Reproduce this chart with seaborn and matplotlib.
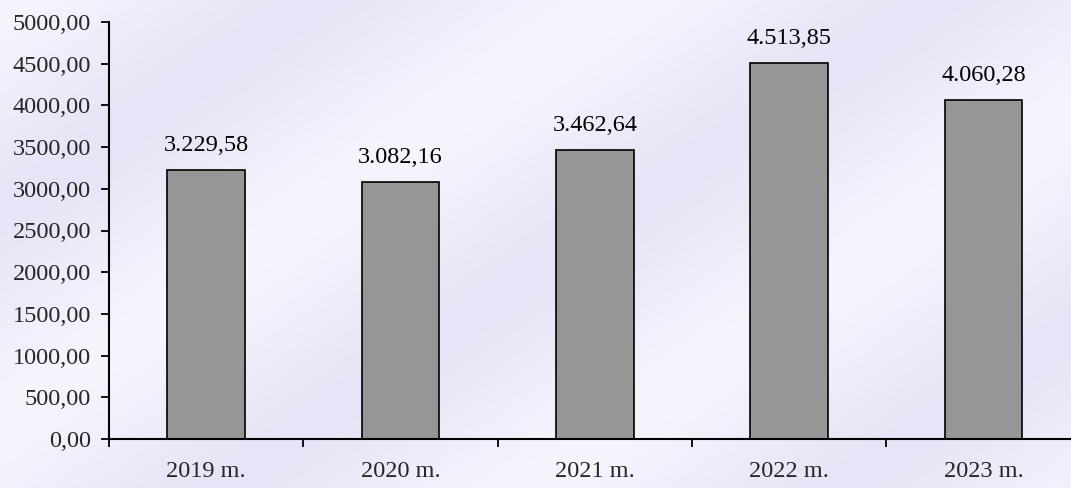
import numpy as np
import matplotlib
matplotlib.use("Agg")
import matplotlib.pyplot as plt
import seaborn as sns

# Data
years = ["2019 m.", "2020 m.", "2021 m.", "2022 m.", "2023 m."]
values = [3229.58, 3082.16, 3462.64, 4513.85, 4060.28]
y_ticks = [0, 500, 1000, 1500, 2000, 2500, 3000, 3500, 4000, 4500, 5000]


def lt_number(v, thousands=True):
    s = f"{v:,.2f}" if thousands else f"{v:.2f}"
    return s.replace(",", "X").replace(".", ",").replace("X", ".")


sns.set_theme(style="white")
plt.rcParams["font.family"] = ["Liberation Serif", "DejaVu Serif"]
FS = 17.5

fig = plt.figure(figsize=(10.71, 4.88), dpi=100)

# soft lavender background
bg = fig.add_axes([0, 0, 1, 1], zorder=-1)
gx, gy = np.meshgrid(np.linspace(0, 1, 300), np.linspace(0, 1, 150))
diag = (gx * 1.2 + gy * 0.8)
shade = 0.5 + 0.5 * np.cos(diag * 9)
base = np.array([0.90, 0.90, 0.97])
light = np.array([0.99, 0.98, 1.0])
img = base[None, None, :] * (1 - shade[..., None] * 0.7) + light[None, None, :] * (shade[..., None] * 0.7)
bg.imshow(img, aspect="auto", extent=[0, 1, 0, 1])
bg.axis("off")

ax = fig.add_axes([109 / 1071, 49 / 488, 962 / 1071, 417 / 488])
ax.patch.set_alpha(0)

sns.barplot(x=years, y=values, color="#969696", edgecolor="black",
            linewidth=1.2, width=0.40, saturation=1, ax=ax)

ax.set_xlim(-0.5, 4.45)
ax.set_ylim(0, 5000)
ax.set_yticks(y_ticks)
ax.set_yticklabels([lt_number(t, thousands=False) for t in y_ticks], fontsize=FS)

ax.set_xticks(range(len(years)))
ax.set_xticklabels(years, fontsize=FS)
ax.set_xticks(np.arange(-0.5, 4.5, 1.0), minor=True)
ax.tick_params(axis="x", which="major", length=0, pad=16)
ax.tick_params(axis="x", which="minor", length=6, width=1.3, color="black", direction="out", bottom=True)
ax.tick_params(axis="y", length=6, width=1.3, color="black", direction="out", left=True, pad=7)

for side in ["top", "right"]:
    ax.spines[side].set_visible(False)
for side in ["left", "bottom"]:
    ax.spines[side].set_color("black")
    ax.spines[side].set_linewidth(1.5)

ax.set_xlabel("")
ax.set_ylabel("")

for i, v in enumerate(values):
    ax.annotate(lt_number(v), (i, v), xytext=(0, 10), textcoords="offset points",
                ha="center", va="bottom", fontsize=FS, color="black")

fig.savefig("out.png", dpi=100)
